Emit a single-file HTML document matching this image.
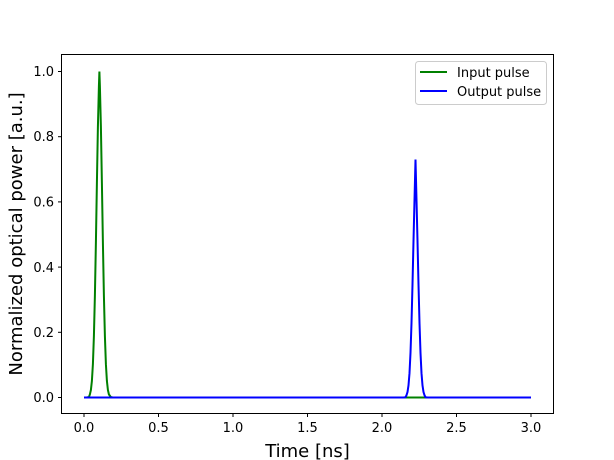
<!DOCTYPE html>
<html><head><style>body{margin:0;background:#fff}svg{display:block}text{font-family:"DejaVu Sans","Liberation Sans",sans-serif}</style></head>
<body>
<svg width="614" height="460" xmlns="http://www.w3.org/2000/svg">
<rect width="614" height="460" fill="#fff"/>
<g font-size="13" fill="#000">
<polyline fill="none" stroke="#008000" stroke-width="2" points="84,397.5 86.9,397.4 88.9,397.1 89.9,394.4 90.9,390 91.9,380.9 92.9,364.2 93.9,336.2 94.9,295.5 95.9,242.6 96.9,183 97.9,126.9 98.9,86.5 99.4,71.5 99.9,86.5 100.9,126.9 101.9,183 102.9,242.6 103.9,295.5 104.9,336.2 105.9,364.2 106.9,380.9 107.9,390 108.9,394.4 110.9,397.1 112.9,397.5 531,397.5"/>
<polyline fill="none" stroke="#0000ff" stroke-width="2" points="84,397.5 403.5,397.5 405.5,397.2 406.5,395.2 407.5,392 408.5,385.4 409.5,373.2 410.5,352.8 411.5,323 412.5,284.5 413.5,240.9 414.5,200 415.5,159.5 416.5,200 417.5,240.9 418.5,284.5 419.5,323 420.5,352.8 421.5,373.2 422.5,385.4 423.5,392 424.5,395.2 425.5,397.2 427.5,397.5 531,397.5"/>
<rect x="61.5" y="54.5" width="492" height="359" fill="none" stroke="#000" stroke-width="1"/>
<g stroke="#000">
<line x1="84" y1="413.5" x2="84" y2="417"/><line x1="158.5" y1="413.5" x2="158.5" y2="417"/><line x1="233" y1="413.5" x2="233" y2="417"/><line x1="307.5" y1="413.5" x2="307.5" y2="417"/><line x1="382" y1="413.5" x2="382" y2="417"/><line x1="456.5" y1="413.5" x2="456.5" y2="417"/><line x1="531" y1="413.5" x2="531" y2="417"/>
<line x1="58" y1="397.5" x2="61.5" y2="397.5"/><line x1="58" y1="332.3" x2="61.5" y2="332.3"/><line x1="58" y1="267.1" x2="61.5" y2="267.1"/><line x1="58" y1="201.9" x2="61.5" y2="201.9"/><line x1="58" y1="136.7" x2="61.5" y2="136.7"/><line x1="58" y1="71.5" x2="61.5" y2="71.5"/>
</g>
<g font-size="13" text-anchor="middle">
<text x="84" y="432">0.0</text><text x="158.5" y="432">0.5</text><text x="233" y="432">1.0</text><text x="307.5" y="432">1.5</text><text x="382" y="432">2.0</text><text x="456.5" y="432">2.5</text><text x="531" y="432">3.0</text>
</g>
<g font-size="13" text-anchor="end">
<text x="54" y="402">0.0</text><text x="54" y="337">0.2</text><text x="54" y="272">0.4</text><text x="54" y="206.5">0.6</text><text x="54" y="141">0.8</text><text x="54" y="76">1.0</text>
</g>
<text x="307.5" y="457" font-size="18" text-anchor="middle">Time [ns]</text>
<text transform="translate(22,234) rotate(-90)" font-size="18" text-anchor="middle">Normalized optical power [a.u.]</text>
<rect x="415.5" y="61.5" width="131" height="43" rx="3" fill="#fff" fill-opacity="0.8" stroke="#ccc"/>
<line x1="420" y1="72" x2="447" y2="72" stroke="#008000" stroke-width="2"/>
<line x1="420" y1="91" x2="447" y2="91" stroke="#0000ff" stroke-width="2"/>
<text x="457" y="77" font-size="13">Input pulse</text>
<text x="457" y="96" font-size="13">Output pulse</text>
</g>
</svg>
</body></html>
